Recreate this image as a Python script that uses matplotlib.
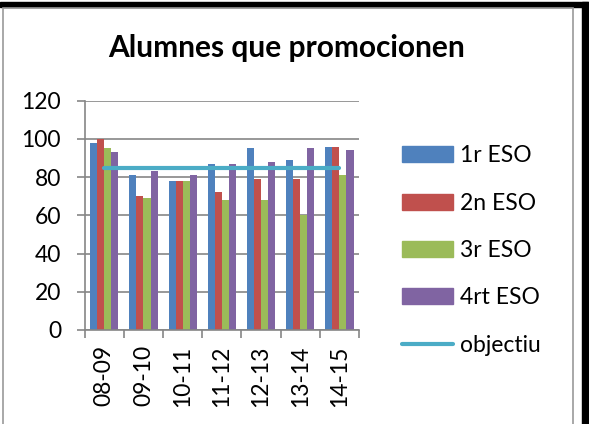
import numpy as np
import matplotlib.pyplot as plt
from matplotlib.patches import Rectangle
from matplotlib.lines import Line2D

cursos = ["08-09", "09-10", "10-11", "11-12", "12-13", "13-14", "14-15"]
eso1 = [98, 81, 78, 87, 95, 89, 96]
eso2 = [100, 70, 78, 72, 79, 79, 96]
eso3 = [95, 69, 78, 68, 68, 60, 81]
eso4 = [93, 83, 81, 87, 88, 95, 94]
objectiu = [85, 85, 85, 85, 85, 85, 85]

series = [("1r ESO", eso1, "#4F81BD"), ("2n ESO", eso2, "#C0504D"),
          ("3r ESO", eso3, "#9BBB59"), ("4rt ESO", eso4, "#8064A2")]

plt.rcParams['font.family'] = ['Lato', 'DejaVu Sans']

fig = plt.figure(figsize=(5.89, 4.24), dpi=100)
W, H = 589, 424

# outer frame pieces
fig.patches.append(Rectangle((0, 1 - 7 / H), 1, 5 / H, transform=fig.transFigure,
                             color="black", zorder=0))
fig.patches.append(Rectangle((582 / W, 0), 6 / W, 1 - 2 / H, transform=fig.transFigure,
                             color="black", zorder=0))
fig.patches.append(Rectangle((2.5 / W, -0.05), 570.5 / W, 1.05 - 8.5 / H,
                             transform=fig.transFigure, fill=False,
                             edgecolor="#9a9a9a", lw=1.2, zorder=0))

ax = fig.add_axes([84.7 / W, 1 - 330 / H, (359 - 84.7) / W, (330 - 100.7) / H])

x = np.arange(len(cursos))
bw = 0.18
handles = []
for i, (name, vals, col) in enumerate(series):
    ax.bar(x + (i - 1.5) * bw, vals, width=bw, color=col, zorder=2)
    handles.append(Rectangle((0, 0), 1, 1, color=col))

ax.plot(x, objectiu, color="#4BACC6", lw=3, solid_capstyle="round", zorder=3)
handles.append(Line2D([0], [0], color="#4BACC6", lw=3, solid_capstyle="round"))

ax.set_xlim(-0.5, len(cursos) - 0.5)
ax.set_ylim(0, 120)
ax.set_yticks(range(0, 121, 20))
ax.yaxis.grid(True, color="#868686", lw=1.2, zorder=0)
ax.set_axisbelow(True)

ax.set_xticks(x)
ax.set_xticklabels(cursos, rotation=90, fontsize=16.5)
ax.set_xticks(np.arange(-0.5, len(cursos)), minor=True)
ax.tick_params(axis="x", which="major", length=0, pad=11)
ax.tick_params(axis="x", which="minor", length=6, color="#868686", width=1.2)
ax.tick_params(axis="y", length=6, color="#868686", width=1.2, labelsize=16.5, pad=11)

for s in ["top", "right"]:
    ax.spines[s].set_visible(False)
for s in ["left", "bottom"]:
    ax.spines[s].set_color("#868686")
    ax.spines[s].set_linewidth(1.2)

fig.text(287 / W, 1 - 48 / H, "Alumnes que promocionen", ha="center", va="center",
         fontsize=21.5, fontweight="bold")

fig.legend(handles, ["1r ESO", "2n ESO", "3r ESO", "4rt ESO", "objectiu"],
           loc="upper left", bbox_to_anchor=(384 / W, 1 - 127 / H), frameon=False,
           fontsize=16.5, handlelength=2.2, handletextpad=0.3, labelspacing=1.15,
           borderpad=0.3)

fig.savefig("out.png", dpi=100)
